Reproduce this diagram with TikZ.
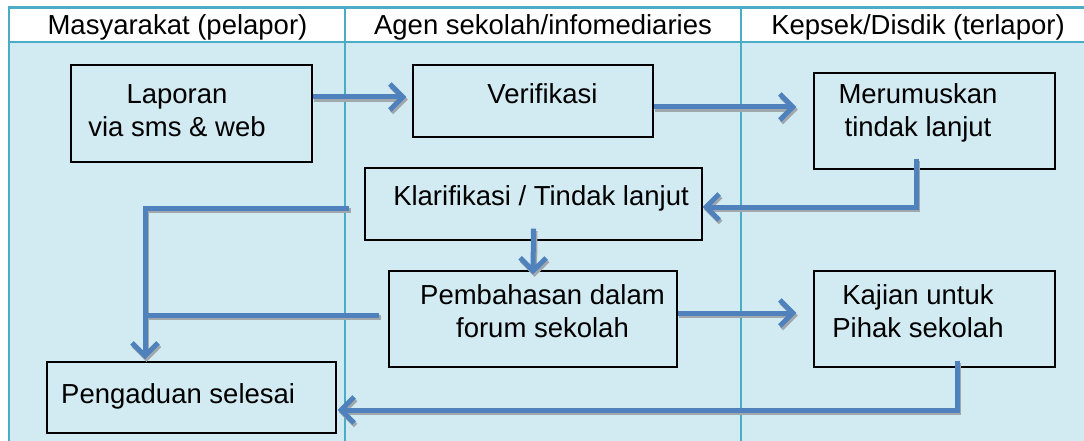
\documentclass[tikz,border=0pt]{standalone}
\usepackage{fontspec}
\setmainfont{Liberation Sans}
\usetikzlibrary{arrows.meta}
\definecolor{lanebg}{RGB}{210,234,241}
\definecolor{laneline}{RGB}{75,172,198}
\definecolor{flowblue}{RGB}{79,129,189}
\definecolor{shadowgray}{RGB}{160,168,172}
\tikzset{
  box/.style={draw=black, line width=1.2pt, rectangle, inner sep=0pt},
  lbl/.style={font=\fontsize{27.5}{33}\selectfont, align=center, anchor=base, inner sep=0pt},
  flow/.style={line width=5pt, draw=flowblue, line cap=butt,
    -{Straight Barb[length=13pt,width=26pt,line width=5pt]}},
  flowline/.style={line width=5pt, draw=flowblue},
  laneln/.style={draw=laneline, line width=2.6pt}
}
\newcommand\allflows{%
\draw[flow] ([yshift=16.5pt]lap.east) -- ([xshift=-6pt,yshift=4pt]ver.west);
\draw[flow] ([yshift=-6pt]ver.east) -- ([xshift=-17pt,yshift=14pt]mer.west);
\draw[flow] ([xshift=-18.5pt,yshift=11pt]mer.south) |- ([yshift=-3pt]kla.east);
\draw[flow] ([yshift=12pt]kla.south) -- ([yshift=-4pt]pem.north);
\draw[flow] ([xshift=-15pt,yshift=-4pt]kla.west) -| ([yshift=2pt]join);
\draw[flowline] (pemout) -- (pemout -| join);
\draw[flow] ([yshift=6pt]pem.east) -- ([xshift=-17pt,yshift=6pt]kaj.west);
\draw[flow] ([xshift=22.5pt,yshift=7pt]kaj.south) |- ([xshift=1pt,yshift=-12.5pt]pen.east);
}
\begin{document}
\begin{tikzpicture}[x=1pt,y=-1pt]
\useasboundingbox (0,0) rectangle (1084,441);
% lanes
\fill[lanebg] (9,42) rectangle (1084,441);
\draw[laneln] (9,7.5) -- (1084,7.5);
\draw[laneln] (9,42) -- (1084,42);
\draw[laneln] (9,6.2) -- (9,441);
\draw[laneln] (345,6.2) -- (345,441);
\draw[laneln] (741,6.2) -- (741,441);
% headers
\node[lbl] (h1) at (177.5,35) {Masyarakat (pelapor)};
\node[lbl] (h2) at (543,35) {Agen sekolah/infomediaries};
\node[lbl] (h3) at (918,35) {Kepsek/Disdik (terlapor)};
% boxes
\node[box, minimum width=241pt, minimum height=97pt] (lap) at (191.5,113.5) {};
\node[box, minimum width=240pt, minimum height=72pt] (ver) at (533,101) {};
\node[box, minimum width=241pt, minimum height=96pt] (mer) at (934.5,121) {};
\node[box, minimum width=337pt, minimum height=72pt] (kla) at (533.5,204) {};
\node[box, minimum width=288pt, minimum height=96pt] (pem) at (533,319) {};
\node[box, minimum width=241pt, minimum height=96pt] (kaj) at (934.5,319) {};
\node[box, minimum width=289pt, minimum height=71pt] (pen) at (191.5,397.5) {};
% texts (base anchor = last line)
\node[lbl] (tlap) at (177,137) {Laporan\\via sms \& web};
\node[lbl] (tver) at (542.5,104) {Verifikasi};
\node[lbl] (tmer) at (918,137) {Merumuskan\\tindak lanjut};
\node[lbl] (tkla) at (541,205) {Klarifikasi / Tindak lanjut};
\node[lbl] (tpem) at (542.5,337) {Pembahasan dalam\\forum sekolah};
\node[lbl] (tkaj) at (918,337) {Kajian untuk\\Pihak sekolah};
\node[lbl, anchor=base west] (tpen) at (61,403) {Pengaduan selesai};
% connectors
\coordinate (join) at ([xshift=-46.5pt]pen.north);
\coordinate (pemout) at ([xshift=-9pt,yshift=4pt]pem.west);
\begin{scope}[transform canvas={shift={(1.5pt,-2.5pt)}}]
\colorlet{flowblue}{shadowgray}
\allflows
\end{scope}
\allflows
\end{tikzpicture}
\end{document}
